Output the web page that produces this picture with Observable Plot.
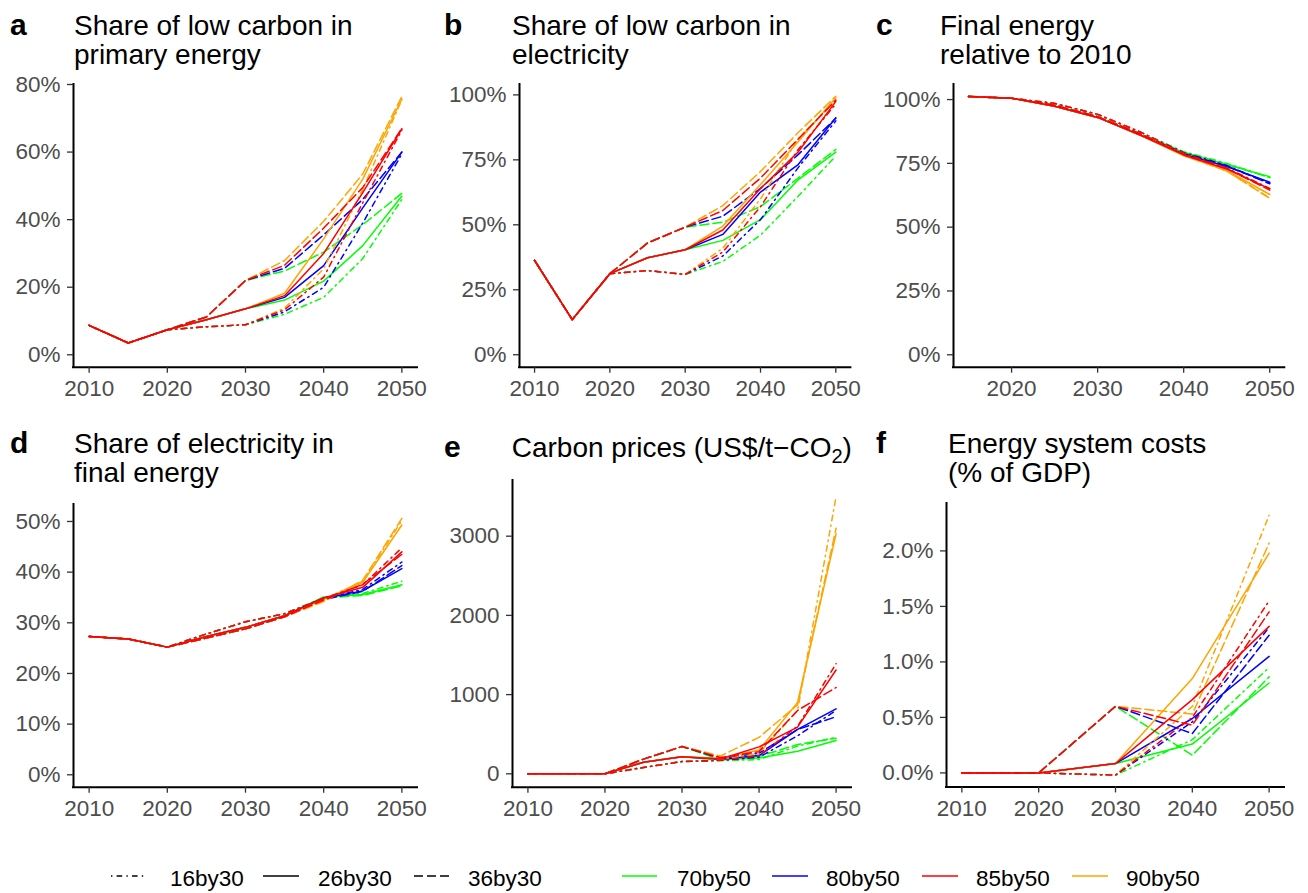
<!DOCTYPE html>
<html><head><meta charset="utf-8">
<script src="https://cdn.jsdelivr.net/npm/d3@7"></script>
<script src="https://cdn.jsdelivr.net/npm/@observablehq/plot@0.6"></script>
<style>
body{margin:0;background:#fff;}
#root{position:relative;width:1308px;height:893px;overflow:hidden;font-family:"Liberation Sans",Arial,Helvetica,sans-serif;}
#root svg{position:absolute;}
</style></head><body><div id="root"></div>
<script>
// ---------- data ----------
const years = [2010, 2015, 2020, 2025, 2030, 2035, 2040, 2045, 2050];
const yearsC = [2015, 2020, 2025, 2030, 2035, 2040, 2045, 2050];
const yearsF = [2010, 2020, 2030, 2040, 2050];
const pathways30 = ["16by30", "26by30", "36by30"];
const targets50 = ["70by50", "80by50", "85by50", "90by50"];
const targetColors = ["#00FF00", "#0000FF", "#FF0000", "#FFA500"];

// rows: [pathway, target, values by year]
const lowCarbonPrimary = [
  ["16by30","70by50", 8.7,3.5,7.4,8.3,8.9,12.0,17.0,28.5,46.0],
  ["16by30","80by50", 8.7,3.5,7.4,8.3,8.9,12.7,20.0,39.0,59.5],
  ["16by30","85by50", 8.7,3.5,7.4,8.3,8.9,13.3,23.0,45.0,66.5],
  ["16by30","90by50", 8.7,3.5,7.4,8.3,8.9,13.8,25.5,49.0,75.5],
  ["26by30","70by50", 8.7,3.5,7.4,10.4,13.6,16.2,21.8,32.3,47.0],
  ["26by30","80by50", 8.7,3.5,7.4,10.4,13.6,17.0,26.4,43.5,60.0],
  ["26by30","85by50", 8.7,3.5,7.4,10.4,13.6,17.5,30.0,48.0,66.9],
  ["26by30","90by50", 8.7,3.5,7.4,10.4,13.6,18.2,34.3,52.0,75.7],
  ["36by30","70by50", 8.7,3.5,7.4,11.2,22.0,24.8,30.4,38.5,47.8],
  ["36by30","80by50", 8.7,3.5,7.4,11.2,22.0,25.6,35.5,46.0,60.0],
  ["36by30","85by50", 8.7,3.5,7.4,11.2,22.0,26.5,37.5,49.5,67.0],
  ["36by30","90by50", 8.7,3.5,7.4,11.2,22.0,27.9,39.5,53.5,76.5]
];
const lowCarbonElec = [
  ["16by30","70by50", 36.3,13.5,31.2,32.4,30.9,35.9,46.0,61.0,76.5],
  ["16by30","80by50", 36.3,13.5,31.2,32.4,30.9,38.0,52.0,72.0,90.0],
  ["16by30","85by50", 36.3,13.5,31.2,32.4,30.9,39.5,57.0,79.0,96.5],
  ["16by30","90by50", 36.3,13.5,31.2,32.4,30.9,41.0,60.0,83.0,98.0],
  ["26by30","70by50", 36.3,13.5,31.2,37.3,40.4,44.0,52.0,67.3,78.0],
  ["26by30","80by50", 36.3,13.5,31.2,37.3,40.4,46.3,62.6,73.2,91.2],
  ["26by30","85by50", 36.3,13.5,31.2,37.3,40.4,48.0,64.0,78.0,97.5],
  ["26by30","90by50", 36.3,13.5,31.2,37.3,40.4,49.5,65.5,82.0,99.0],
  ["36by30","70by50", 36.3,13.5,31.2,43.0,49.1,51.0,57.0,68.0,79.0],
  ["36by30","80by50", 36.3,13.5,31.2,43.0,49.1,53.3,64.0,77.0,91.0],
  ["36by30","85by50", 36.3,13.5,31.2,43.0,49.1,55.5,68.0,83.0,98.0],
  ["36by30","90by50", 36.3,13.5,31.2,43.0,49.1,57.4,70.5,85.5,99.5]
];
const finalEnergyRel = [
  ["16by30","70by50", 101.2,100.5,98.5,94.2,87.2,79.6,75.0,69.5],
  ["16by30","80by50", 101.2,100.5,98.5,94.2,87.2,79.2,74.2,67.2],
  ["16by30","85by50", 101.2,100.5,98.5,94.2,87.2,79.0,73.2,65.2],
  ["16by30","90by50", 101.2,100.5,98.5,94.2,87.2,78.8,72.0,61.5],
  ["26by30","70by50", 101.2,100.5,97.4,93.0,86.0,79.3,74.5,69.8],
  ["26by30","80by50", 101.2,100.5,97.4,93.0,86.0,78.6,73.8,67.6],
  ["26by30","85by50", 101.2,100.5,97.4,93.0,86.0,78.3,72.8,65.0],
  ["26by30","90by50", 101.2,100.5,97.4,93.0,86.0,78.0,72.2,62.8],
  ["36by30","70by50", 101.2,100.5,97.8,93.3,86.5,79.4,74.7,69.4],
  ["36by30","80by50", 101.2,100.5,97.8,93.3,86.5,78.9,74.0,67.0],
  ["36by30","85by50", 101.2,100.5,97.8,93.3,86.5,78.5,73.0,64.5],
  ["36by30","90by50", 101.2,100.5,97.8,93.3,86.5,78.2,72.0,61.3]
];
const elecShareFinal = [
  ["16by30","70by50", 27.3,26.8,25.2,27.8,30.2,31.8,35.0,35.8,38.2],
  ["16by30","80by50", 27.3,26.8,25.2,27.8,30.2,31.8,34.8,36.6,42.0],
  ["16by30","85by50", 27.3,26.8,25.2,27.8,30.2,31.8,34.8,37.5,44.8],
  ["16by30","90by50", 27.3,26.8,25.2,27.8,30.2,31.8,34.6,38.2,50.2],
  ["26by30","70by50", 27.3,26.8,25.2,27.3,29.1,31.4,35.1,35.6,37.5],
  ["26by30","80by50", 27.3,26.8,25.2,27.3,29.1,31.4,34.9,36.3,40.7],
  ["26by30","85by50", 27.3,26.8,25.2,27.3,29.1,31.4,34.9,37.0,44.0],
  ["26by30","90by50", 27.3,26.8,25.2,27.3,29.1,31.4,34.6,38.0,49.3],
  ["36by30","70by50", 27.3,26.8,25.2,27.0,28.8,31.2,34.9,35.4,37.3],
  ["36by30","80by50", 27.3,26.8,25.2,27.0,28.8,31.2,34.6,36.2,41.3],
  ["36by30","85by50", 27.3,26.8,25.2,27.0,28.8,31.2,34.5,37.6,43.5],
  ["36by30","90by50", 27.3,26.8,25.2,27.0,28.8,31.2,34.2,38.4,50.6]
];
const carbonPrice = [
  ["16by30","70by50", 0,0,0,80,155,165,180,350,460],
  ["16by30","80by50", 0,0,0,80,155,170,210,480,800],
  ["16by30","85by50", 0,0,0,80,155,172,230,600,1390],
  ["16by30","90by50", 0,0,0,80,155,178,260,800,3500],
  ["26by30","70by50", 0,0,0,147,215,178,200,285,420],
  ["26by30","80by50", 0,0,0,147,215,185,230,560,820],
  ["26by30","85by50", 0,0,0,147,215,188,340,590,1310],
  ["26by30","90by50", 0,0,0,147,215,195,300,900,3030],
  ["36by30","70by50", 0,0,0,185,345,175,220,370,450],
  ["36by30","80by50", 0,0,0,185,345,195,260,560,720],
  ["36by30","85by50", 0,0,0,185,345,205,280,800,1090],
  ["36by30","90by50", 0,0,0,185,345,225,460,870,3100]
];
const systemCosts = [
  ["16by30","70by50", 0,0,-0.02,0.30,0.95],
  ["16by30","80by50", 0,0,-0.02,0.46,1.31],
  ["16by30","85by50", 0,0,-0.02,0.50,1.55],
  ["16by30","90by50", 0,0,-0.02,0.60,2.32],
  ["26by30","70by50", 0,0,0.084,0.26,0.81],
  ["26by30","80by50", 0,0,0.084,0.49,1.05],
  ["26by30","85by50", 0,0,0.084,0.66,1.32],
  ["26by30","90by50", 0,0,0.084,0.85,1.98],
  ["36by30","70by50", 0,0,0.60,0.16,0.865],
  ["36by30","80by50", 0,0,0.60,0.355,1.24],
  ["36by30","85by50", 0,0,0.60,0.43,1.45],
  ["36by30","90by50", 0,0,0.60,0.53,2.07]
];
const xTicks = [2010, 2020, 2030, 2040, 2050];
const xTicksC = [2020, 2030, 2040, 2050];
const pctTicksA = [0, 20, 40, 60, 80];
const pctTicksB = [0, 25, 50, 75, 100];
const pctTicksD = [0, 10, 20, 30, 40, 50];
const priceTicks = [0, 1000, 2000, 3000];
const costTicks = [0, 0.5, 1.0, 1.5, 2.0];

// ---------- drawing ----------
const FONT = "Liberation Sans, Arial, Helvetica, sans-serif";
const dashOf = {"16by30": "1.4,4.2,5.6,4.2", "26by30": null, "36by30": "9,4"};
const drawPathways = ["36by30", "16by30", "26by30"];
const drawTargets = ["70by50", "80by50", "90by50", "85by50"];
const root = document.getElementById("root");

function longRows(rows, yrs) {
  const out = [];
  for (const r of rows) {
    const [pathway, target, ...vals] = r;
    vals.forEach((v, i) => out.push({pathway, target, year: yrs[i], value: v}));
  }
  return out;
}

function panel(cfg) {
  const data = longRows(cfg.rows, cfg.years);
  const left = cfg.x0 - 72, top = cfg.y0 - 16;
  const width = cfg.x1 - left + 26;
  const height = cfg.y1 - top + 44;
  const marks = [];
  for (const t of drawTargets) {
    for (const p of drawPathways) {
      const sub = data.filter(d => d.pathway === p && d.target === t);
      marks.push(Plot.line(sub, {
        x: "year", y: "value", stroke: "target",
        strokeWidth: 1.5, strokeDasharray: dashOf[p], strokeLinejoin: "round"
      }));
    }
  }
  marks.push(Plot.ruleX([cfg.xDomain[0]], {stroke: "black", strokeWidth: 2, strokeLinecap: "square"}));
  marks.push(Plot.ruleY([cfg.yDomain[0]], {stroke: "black", strokeWidth: 2, strokeLinecap: "square"}));
  marks.push(Plot.axisX({ticks: cfg.xTicks, tickFormat: d => String(d), tickSize: 6, tickPadding: 7, label: null,
    stroke: "#333", fill: "#4d4d4d", fontSize: 22.5, strokeWidth: 1.3}));
  marks.push(Plot.axisY({ticks: cfg.yTicks, tickFormat: cfg.fmt, tickSize: 6, tickPadding: 7, label: null,
    stroke: "#333", fill: "#4d4d4d", fontSize: 22.5, strokeWidth: 1.3}));
  const svg = Plot.plot({
    width, height,
    marginLeft: cfg.x0 - left, marginRight: 26,
    marginTop: cfg.y0 - top, marginBottom: 44,
    x: {domain: cfg.xDomain, label: null},
    y: {domain: cfg.yDomain, label: null},
    color: {domain: targets50, range: targetColors},
    style: {fontFamily: FONT, background: "transparent", overflow: "visible"},
    marks
  });
  svg.style.left = left + "px";
  svg.style.top = top + "px";
  root.appendChild(svg);
}

const pct = d => d + "%";
panel({rows: lowCarbonPrimary, years, x0: 72.7, x1: 416.7, y0: 84, y1: 366.7,
  xDomain: [2008, 2052], yDomain: [-3.67, 80], xTicks, yTicks: pctTicksA, fmt: pct});
panel({rows: lowCarbonElec, years, x0: 519.3, x1: 850.7, y0: 84, y1: 366.7,
  xDomain: [2008, 2052], yDomain: [-4.8, 104], xTicks, yTicks: pctTicksB, fmt: pct});
panel({rows: finalEnergyRel, years: yearsC, x0: 952.7, x1: 1284, y0: 84, y1: 366.7,
  xDomain: [2013.25, 2051.75], yDomain: [-4.86, 105.9], xTicks: xTicksC, yTicks: pctTicksB, fmt: pct});
panel({rows: elecShareFinal, years, x0: 72.7, x1: 416.7, y0: 504, y1: 786.7,
  xDomain: [2008, 2052], yDomain: [-2.45, 53.35], xTicks, yTicks: pctTicksD, fmt: pct});
panel({rows: carbonPrice, years, x0: 511.7, x1: 850.7, y0: 480, y1: 786.7,
  xDomain: [2008, 2052], yDomain: [-169, 3703], xTicks, yTicks: priceTicks, fmt: d => String(d)});
panel({rows: systemCosts, years: yearsF, x0: 946, x1: 1284, y0: 503.3, y1: 786.7,
  xDomain: [2008, 2052], yDomain: [-0.126, 2.427], xTicks, yTicks: costTicks, fmt: d => d3.format(".1f")(d) + "%"});

// ---------- titles and legend ----------
const over = d3.select(root).append("svg").attr("width", 1308).attr("height", 893)
  .style("left", "0px").style("top", "0px").style("font-family", FONT);

const titles = [
  {letter: "a", lx: 10, tx: 74, y: 34.5, lines: ["Share of low carbon in", "primary energy"]},
  {letter: "b", lx: 444, tx: 512, y: 34.5, lines: ["Share of low carbon in", "electricity"]},
  {letter: "c", lx: 876, tx: 940, y: 34.5, lines: ["Final energy", "relative to 2010"]},
  {letter: "d", lx: 10, tx: 74, y: 452.5, lines: ["Share of electricity in", "final energy"]},
  {letter: "f", lx: 876, tx: 948, y: 452.5, lines: ["Energy system costs", "(% of GDP)"]}
];
for (const t of titles) {
  over.append("text").attr("x", t.lx).attr("y", t.y).attr("font-size", 30).attr("font-weight", "bold")
    .attr("fill", "black").text(t.letter);
  t.lines.forEach((ln, i) => over.append("text").attr("x", t.tx).attr("y", t.y + i * 29)
    .attr("font-size", 28).attr("fill", "black").text(ln));
}
over.append("text").attr("x", 444).attr("y", 456.5).attr("font-size", 30).attr("font-weight", "bold").text("e");
const et = over.append("text").attr("x", 511.7).attr("y", 456.5).attr("font-size", 28).attr("fill", "black");
et.append("tspan").text("Carbon prices (US$/t\u2212CO");
et.append("tspan").attr("font-size", 20).attr("dy", 6).text("2");
et.append("tspan").attr("dy", -6).text(")");

// legend
const keyY = 876, textY = 886;
const ptKeys = [[111, 147, 170], [263, 299, 318], [414, 450, 468]];
pathways30.forEach((p, i) => {
  const [a, b, tx] = ptKeys[i];
  over.append("line").attr("x1", a).attr("x2", b).attr("y1", keyY).attr("y2", keyY)
    .attr("stroke", "black").attr("stroke-width", 1.5).attr("stroke-dasharray", dashOf[p]);
  over.append("text").attr("x", tx).attr("y", textY).attr("font-size", 22.5).text(p);
});
const tgKeys = [[622, 657, 677], [772, 808, 826], [922, 958, 976], [1072, 1108, 1126]];
targets50.forEach((t, i) => {
  const [a, b, tx] = tgKeys[i];
  over.append("line").attr("x1", a).attr("x2", b).attr("y1", keyY).attr("y2", keyY)
    .attr("stroke", targetColors[i]).attr("stroke-width", 1.5);
  over.append("text").attr("x", tx).attr("y", textY).attr("font-size", 22.5).text(t);
});
</script></body></html>
